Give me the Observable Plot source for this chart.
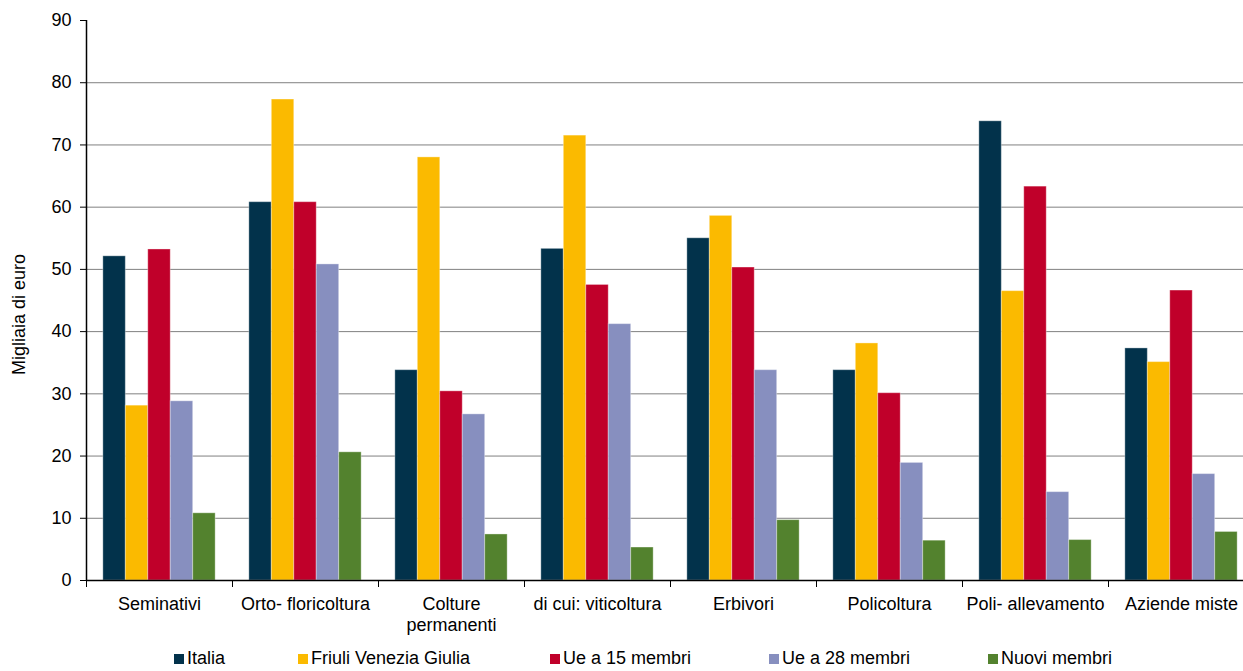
<!DOCTYPE html>
<html>
<head>
<meta charset="utf-8">
<script src="https://cdn.jsdelivr.net/npm/d3@7"></script>
<script src="https://cdn.jsdelivr.net/npm/@observablehq/plot@0.6"></script>
<style>
  html, body { margin: 0; padding: 0; background: #fff; overflow: hidden; width: 1243px; height: 671px; }
  #chart { position: relative; width: 1243px; height: 671px; font-family: "Liberation Sans", Arial, sans-serif; }
  #legend { position: absolute; top: 648px; left: 0; height: 22px; width: 1243px; font-size: 18px; color: #000; }
  .item { position: absolute; top: 0; display: flex; align-items: center; white-space: nowrap; }
  .sw { width: 10px; height: 10px; margin-right: 3px; }
</style>
</head>
<body>
<div id="chart"></div>
<script>
const categories = ["Seminativi", "Orto- floricoltura", "Colture\npermanenti", "di cui: viticoltura", "Erbivori", "Policoltura", "Poli- allevamento", "Aziende miste"];
const series = ["Italia", "Friuli Venezia Giulia", "Ue a 15 membri", "Ue a 28 membri", "Nuovi membri"];
const colors = ["#02324b", "#fbba00", "#c0002a", "#878fbf", "#53822e"];
const italia = [52.1, 60.8, 33.8, 53.3, 55.0, 33.8, 73.8, 37.3];
const friuli = [28.1, 77.3, 68.0, 71.5, 58.6, 38.1, 46.5, 35.1];
const ue15 = [53.2, 60.8, 30.4, 47.5, 50.3, 30.1, 63.3, 46.6];
const ue28 = [28.8, 50.8, 26.7, 41.2, 33.8, 18.9, 14.2, 17.1];
const nuovi = [10.8, 20.6, 7.4, 5.3, 9.7, 6.4, 6.5, 7.8];
const yTicks = [0, 10, 20, 30, 40, 50, 60, 70, 80, 90];

const seriesValues = [italia, friuli, ue15, ue28, nuovi];
const outer = 0.75 / 6.5, bw = 1 / 6.5;
const rows = [];
categories.forEach((c, g) => {
  series.forEach((s, k) => {
    const x1 = g + outer + k * bw;
    rows.push({category: c, series: s, value: seriesValues[k][g], x1, x2: x1 + bw});
  });
});

const plot = Plot.plot({
  width: 1254,
  height: 645,
  marginLeft: 86,
  marginRight: 0,
  marginTop: 20,
  marginBottom: 65,
  style: {fontFamily: "Liberation Sans, Arial, sans-serif", fontSize: "18px", maxWidth: "none", overflow: "visible", color: "#000"},
  x: {domain: [0, categories.length]},
  y: {domain: [0, 90]},
  color: {domain: series, range: colors},
  marks: [
    Plot.gridY(yTicks.filter(d => d > 0 && d < 90), {stroke: "#808080", strokeOpacity: 1, strokeWidth: 1}),
    Plot.rectY(rows, {x1: "x1", x2: "x2", y: "value", fill: "series", stroke: "#ffffff", strokeOpacity: 0.35, strokeWidth: 1}),
    Plot.axisY({ticks: yTicks, tickSize: 6, tickPadding: 9, label: null, stroke: "#000"}),
    Plot.axisX({ticks: d3.range(categories.length + 1), tickFormat: () => "", tickSize: 7, label: null, stroke: "#000"}),
    Plot.axisX({ticks: categories.map((c, i) => i + 0.5), tickFormat: d => categories[Math.floor(d)], tickSize: 0, tickPadding: 14, label: null, lineHeight: 1.2}),
    Plot.ruleY([0], {stroke: "#000", strokeWidth: 1.5}),
    Plot.ruleX([0], {y1: 0, y2: 90, stroke: "#000", strokeWidth: 1.5}),
    Plot.text(["Migliaia di euro"], {frameAnchor: "left", textAnchor: "middle", rotate: -90, dx: -67, dy: 14, fontSize: 18, fill: "#000"})
  ]
});
const chart = document.getElementById("chart");
chart.appendChild(plot);

const legend = document.createElement("div");
legend.id = "legend";
const lefts = [174, 298, 550, 769, 988];
series.forEach((s, i) => {
  const it = document.createElement("div");
  it.className = "item";
  it.style.left = lefts[i] + "px";
  const sw = document.createElement("span");
  sw.className = "sw";
  sw.style.background = colors[i];
  const t = document.createElement("span");
  t.textContent = s;
  it.appendChild(sw);
  it.appendChild(t);
  legend.appendChild(it);
});
chart.appendChild(legend);
</script>
</body>
</html>
